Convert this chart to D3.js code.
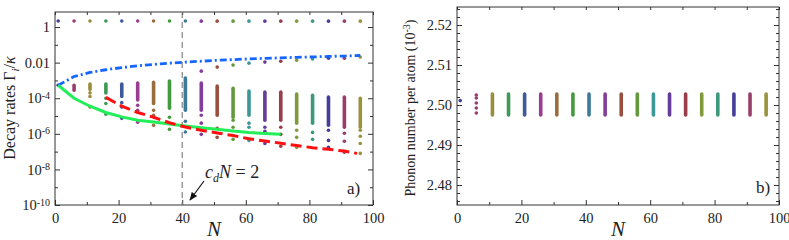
<!DOCTYPE html>
<html>
<head>
<meta charset="utf-8">
<script src="https://cdn.jsdelivr.net/npm/d3@7"></script>
<style>
  body { margin: 0; background: #fff; }
  svg text { font-family: "Liberation Serif", "Times New Roman", serif; fill: #222; }
</style>
</head>
<body>
<svg id="chart" width="789" height="240"></svg>
<script>
// system sizes N (both panels)
const Ns = [1, 6, 11, 16, 21, 26, 31, 36, 41, 46, 51, 56, 61, 66, 71, 76, 81, 86, 91, 96];
// one colour per N (Mathematica default cycle)
const nColors = ["#3f3d99", "#993d71", "#998c3d", "#3d9956", "#3d5a99", "#993d90", "#996d3d",
  "#43993d", "#3d7999", "#843d99", "#994e3d", "#62993d", "#3d9799", "#653d99", "#993d4b",
  "#81993d", "#3d997c", "#463d99", "#993d6a", "#99933d"];

// panel a: decay rates, stored as log10 exponents
const topExp = [0.34, 0.34, 0.34, 0.34, 0.34, 0.34, 0.34, 0.34, 0.34, 0.33, 0.33, 0.33, 0.33, 0.33, 0.33, 0.33, 0.33, 0.33, 0.33, 0.33];
const barTopExp = [null, -3.27, -3.2, -3.2, -3.21, -3.15, -3.1, -3.04, -2.87, -3.15, -3.32, -3.44, -3.6, -3.66, -3.66, -3.77, -3.83, -3.94, -3.94, -4.0];
const barBottomExp = [null, -3.55, -3.5, -3.7, -3.9, -4.1, -4.3, -4.56, -4.68, -4.68, -4.96, -5.07, -4.96, -5.24, -5.24, -5.4, -5.4, -5.52, -5.63, -5.63];
const extraExp = [
  [-3.27], [], [-3.7, -3.9, -4.5], [-4.0, -4.3, -4.9], [-4.25, -4.5, -5.13],
  [-4.4, -4.68, -5.35], [-4.68, -4.96, -5.52], [-5.07, -5.75], [-5.3, -5.9],
  [-2.48, -4.96, -5.4, -6.03], [-2.25, -5.69, -6.2], [-2.14, -5.24, -5.63, -6.31],
  [-2.03, -5.4, -5.63, -6.37], [-1.97, -5.63, -5.86, -6.54], [-1.92, -5.63, -6.03, -6.7],
  [-1.86, -5.8, -6.2, -6.76], [-1.8, -5.92, -6.31], [-1.75, -5.8, -6.37, -6.76],
  [-1.75, -5.97, -6.42, -7.04], [-1.69, -5.8, -6.14, -6.54, -7.1]
];
const blueExp = [-3.27, -2.78, -2.55, -2.4, -2.28, -2.18, -2.1, -2.03, -1.97, -1.92, -1.87, -1.83, -1.79, -1.76, -1.73, -1.7, -1.68, -1.65, -1.63, -1.6];
const greenN = [1, 6, 11, 16, 21, 26, 31, 36, 41, 46, 51, 56, 61, 66, 71];
const greenExp = [-3.27, -4.0, -4.45, -4.8, -5.05, -5.24, -5.33, -5.45, -5.56, -5.66, -5.75, -5.84, -5.92, -5.98, -6.03];
const redN = [16, 21, 26, 31, 36, 41, 46, 51, 56, 61, 66, 71, 76, 81, 86, 91, 95];
const redExp = [-3.95, -4.45, -4.8, -5.07, -5.38, -5.62, -5.8, -5.95, -6.1, -6.28, -6.4, -6.53, -6.66, -6.78, -6.87, -6.97, -7.1];

// panel b: phonon number per atom (1e-3)
const phononN1 = 2.5011;
const phononN6 = [2.5025, 2.50175, 2.5005, 2.49925, 2.498];
const phononTop = 2.50275;
const phononBottom = 2.4975;

const xTicks = [0, 20, 40, 60, 80, 100];
const xMinor = [10, 30, 50, 70, 90];
const yaTicks = [1, 1e-2, 1e-4, 1e-6, 1e-8, 1e-10];
const yaMinor = [1e-1, 1e-3, 1e-5, 1e-7, 1e-9];
const yaLabels = [["1", ""], ["0.01", ""], ["10", "-4"], ["10", "-6"], ["10", "-8"], ["10", "-10"]];
const ybTicks = [2.48, 2.49, 2.50, 2.51, 2.52];
const ybMinor = [2.476, 2.478, 2.482, 2.484, 2.486, 2.488, 2.492, 2.494, 2.496, 2.498,
  2.502, 2.504, 2.506, 2.508, 2.512, 2.514, 2.516, 2.518, 2.522, 2.524];

const serif = '"Liberation Serif", "Times New Roman", serif';
const svg = d3.select("#chart").attr("font-family", serif);

const xa = d3.scaleLinear().domain([0, 100]).range([55, 373]);
const ya = d3.scaleLog().domain([1e-10, 7]).range([205, 12]);
const xb = d3.scaleLinear().domain([0, 100]).range([457, 779]);
const yb = d3.scaleLinear().domain([2.475, 2.5245]).range([205, 7]);

function frameAxes(x, y, yMajor, yMinorVals, fontSize) {
  const [x0, x1] = x.range();
  const [y0, y1] = y.range();
  const g = svg.append("g");
  const bottom = g.append("g").attr("transform", `translate(0,${y0})`)
    .call(d3.axisBottom(x).tickValues(xTicks).tickSize(-5).tickPadding(8).tickFormat(d3.format("d")));
  bottom.selectAll("text").style("font-size", fontSize + "px");
  g.append("g").attr("transform", `translate(0,${y0})`)
    .call(d3.axisBottom(x).tickValues(xMinor).tickSize(-3).tickFormat(""));
  g.append("g").attr("transform", `translate(0,${y1})`)
    .call(d3.axisTop(x).tickValues(xTicks.concat(xMinor)).tickSize(-3).tickFormat(""));
  const left = g.append("g").attr("transform", `translate(${x0},0)`)
    .call(d3.axisLeft(y).tickValues(yMajor).tickSize(-5).tickPadding(5));
  g.append("g").attr("transform", `translate(${x0},0)`)
    .call(d3.axisLeft(y).tickValues(yMinorVals).tickSize(-3).tickFormat(""));
  g.append("g").attr("transform", `translate(${x1},0)`)
    .call(d3.axisRight(y).tickValues(yMajor).tickSize(-5).tickFormat(""));
  g.append("g").attr("transform", `translate(${x1},0)`)
    .call(d3.axisRight(y).tickValues(yMinorVals).tickSize(-3).tickFormat(""));
  g.selectAll("g").attr("font-family", serif);
  g.selectAll("text").attr("fill", "#222").style("font-family", serif);
  g.selectAll(".domain").remove();
  g.selectAll(".tick line").attr("stroke", "#333");
  g.append("rect").attr("x", x0).attr("y", y1).attr("width", x1 - x0).attr("height", y0 - y1)
    .attr("fill", "none").attr("stroke", "#333").attr("stroke-width", 1);
  return left;
}

// ---- panel a ----
const leftA = frameAxes(xa, ya, yaTicks, yaMinor, 14.5);
leftA.selectAll("text").each(function(d, i) {
  const t = d3.select(this).text("").style("font-size", "14.5px");
  t.append("tspan").text(yaLabels[i][0]);
  if (yaLabels[i][1]) {
    t.append("tspan").attr("dy", "-0.45em").style("font-size", "10px").text(yaLabels[i][1]);
  }
});

// dashed marker at c_d N = 2
svg.append("line").attr("x1", xa(40)).attr("x2", xa(40)).attr("y1", ya.range()[1]).attr("y2", ya.range()[0])
  .attr("stroke", "#777").attr("stroke-dasharray", "6,4").attr("stroke-width", 1.1);

const pa = svg.append("g");
Ns.forEach((n, i) => {
  const c = nColors[i];
  if (barTopExp[i] !== null) {
    pa.append("line").attr("x1", xa(n)).attr("x2", xa(n))
      .attr("y1", ya(Math.pow(10, barTopExp[i]))).attr("y2", ya(Math.pow(10, barBottomExp[i])))
      .attr("stroke", c).attr("stroke-width", 3.6).attr("stroke-linecap", "round");
  }
  pa.append("circle").attr("cx", xa(n)).attr("cy", ya(Math.pow(10, topExp[i]))).attr("r", 1.8).attr("fill", c);
  extraExp[i].forEach(e => {
    pa.append("circle").attr("cx", xa(n)).attr("cy", ya(Math.pow(10, e))).attr("r", 1.8).attr("fill", c);
  });
});

const lineA = d3.line().x(d => xa(d[0])).y(d => ya(Math.pow(10, d[1])));
svg.append("path").datum(Ns.map((n, i) => [n, blueExp[i]])).attr("d", lineA)
  .attr("fill", "none").attr("stroke", "#1565ff").attr("stroke-width", 2.8).attr("stroke-dasharray", "7,3,2,3");
svg.append("path").datum(greenN.map((n, i) => [n, greenExp[i]])).attr("d", lineA)
  .attr("fill", "none").attr("stroke", "#22ee5a").attr("stroke-width", 3);
svg.append("path").datum(redN.map((n, i) => [n, redExp[i]])).attr("d", lineA)
  .attr("fill", "none").attr("stroke", "#ff1010").attr("stroke-width", 3).attr("stroke-dasharray", "11,5");

// annotation
const ann = svg.append("text").attr("x", 205).attr("y", 178).style("font-size", "18px");
ann.append("tspan").style("font-style", "italic").text("c");
ann.append("tspan").attr("dy", 4).style("font-size", "12px").style("font-style", "italic").text("d");
ann.append("tspan").attr("dy", -4).style("font-style", "italic").text("N");
ann.append("tspan").text(" = 2");
svg.append("defs").append("marker").attr("id", "arr").attr("viewBox", "0 0 10 10")
  .attr("refX", 9).attr("refY", 5).attr("markerWidth", 7).attr("markerHeight", 7).attr("orient", "auto")
  .append("path").attr("d", "M0,1 L10,5 L0,9 Z").attr("fill", "#111");
svg.append("line").attr("x1", 204).attr("y1", 181).attr("x2", 190).attr("y2", 200)
  .attr("stroke", "#111").attr("stroke-width", 1.2).attr("marker-end", "url(#arr)");

svg.append("text").attr("x", 347).attr("y", 194).style("font-size", "17px").text("a)");

const yTitleA = svg.append("text").attr("transform", "translate(15,108) rotate(-90)")
  .attr("text-anchor", "middle").style("font-size", "16px");
yTitleA.append("tspan").text("Decay rates \u0393");
yTitleA.append("tspan").attr("dy", 4).style("font-size", "11px").style("font-style", "italic").text("i");
yTitleA.append("tspan").attr("dy", -4).text("/");
yTitleA.append("tspan").style("font-style", "italic").text("\u03ba");

svg.append("text").attr("x", xa(50)).attr("y", 236).attr("text-anchor", "middle")
  .style("font-size", "21px").style("font-style", "italic").text("N");

// ---- panel b ----
const leftB = frameAxes(xb, yb, ybTicks, ybMinor, 14.5);
leftB.selectAll("text").text(d => d3.format(".2f")(d)).style("font-size", "14.5px");

const pb = svg.append("g");
Ns.forEach((n, i) => {
  const c = nColors[i];
  if (n === 1) {
    pb.append("circle").attr("cx", xb(n)).attr("cy", yb(phononN1)).attr("r", 1.8).attr("fill", c);
  } else if (n === 6) {
    phononN6.forEach(v => pb.append("circle").attr("cx", xb(n)).attr("cy", yb(v)).attr("r", 1.8).attr("fill", c));
  } else {
    pb.append("line").attr("x1", xb(n)).attr("x2", xb(n)).attr("y1", yb(phononTop)).attr("y2", yb(phononBottom))
      .attr("stroke", c).attr("stroke-width", 3.6).attr("stroke-linecap", "round");
  }
});

svg.append("text").attr("x", 756).attr("y", 193).style("font-size", "17px").text("b)");

const yTitleB = svg.append("text").attr("transform", "translate(415,108) rotate(-90)")
  .attr("text-anchor", "middle").style("font-size", "14px");
yTitleB.append("tspan").text("Phonon number per atom (10");
yTitleB.append("tspan").attr("dy", -5).style("font-size", "10px").text("-3");
yTitleB.append("tspan").attr("dy", 5).text(")");

svg.append("text").attr("x", xb(50)).attr("y", 236).attr("text-anchor", "middle")
  .style("font-size", "21px").style("font-style", "italic").text("N");
</script>
</body>
</html>
